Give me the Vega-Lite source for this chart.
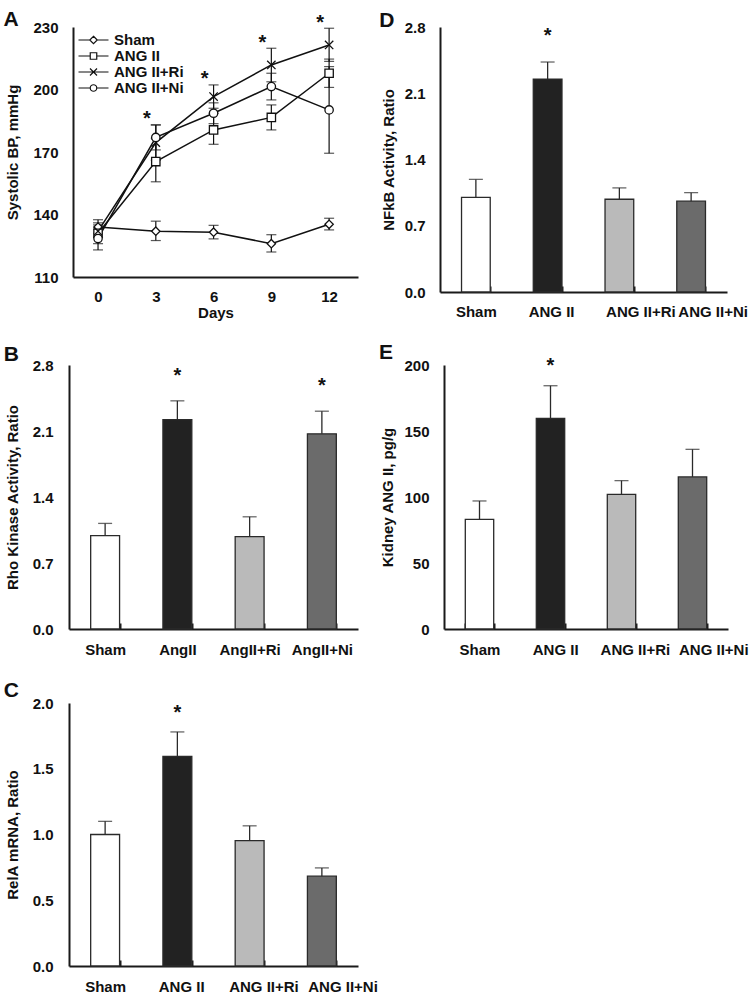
{
  "$schema": "https://vega.github.io/schema/vega-lite/v6.json",
  "background": "white",
  "padding": {"left": 3, "top": 8, "right": 0, "bottom": 0},
  "config": {
    "font": "Liberation Sans",
    "view": {"stroke": null},
    "title": {"anchor": "start", "fontSize": 21, "fontWeight": "bold", "color": "#111", "dx": -2},
    "axis": {
      "domainColor": "#1a1a1a", "domainWidth": 2, "grid": false, "ticks": false,
      "labelFontSize": 15, "labelFontWeight": "bold", "labelColor": "#111",
      "titleFontSize": 15, "titleFontWeight": "bold", "titleColor": "#111",
      "labelPadding": 16, "titlePadding": 11.5
    }
  },
  "datasets": {
    "bp": [
      {"day": 0, "group": "Sham", "mean": 134, "lo": 131, "hi": 137.5},
      {"day": 3, "group": "Sham", "mean": 132, "lo": 127.5, "hi": 136.8},
      {"day": 6, "group": "Sham", "mean": 131.5, "lo": 128.3, "hi": 134.8},
      {"day": 9, "group": "Sham", "mean": 126, "lo": 122, "hi": 130.3},
      {"day": 12, "group": "Sham", "mean": 135.3, "lo": 132.6, "hi": 138.2},
      {"day": 0, "group": "ANG II", "mean": 131, "lo": 126, "hi": 136},
      {"day": 3, "group": "ANG II", "mean": 165.4, "lo": 155.7, "hi": 176.6},
      {"day": 6, "group": "ANG II", "mean": 180.6, "lo": 173.7, "hi": 188.6},
      {"day": 9, "group": "ANG II", "mean": 186.6, "lo": 180.6, "hi": 192.6},
      {"day": 12, "group": "ANG II", "mean": 207.8, "lo": 201, "hi": 214.6},
      {"day": 0, "group": "ANG II+Ri", "mean": 132, "lo": 129, "hi": 135},
      {"day": 3, "group": "ANG II+Ri", "mean": 174.5, "lo": 166, "hi": 183},
      {"day": 6, "group": "ANG II+Ri", "mean": 196.6, "lo": 191, "hi": 202.2},
      {"day": 9, "group": "ANG II+Ri", "mean": 211.8, "lo": 203.7, "hi": 219.8},
      {"day": 12, "group": "ANG II+Ri", "mean": 221.4, "lo": 213.5, "hi": 229.4},
      {"day": 0, "group": "ANG II+Ni", "mean": 128.5, "lo": 123, "hi": 133},
      {"day": 3, "group": "ANG II+Ni", "mean": 177, "lo": 171, "hi": 183},
      {"day": 6, "group": "ANG II+Ni", "mean": 188.6, "lo": 183.6, "hi": 193.6},
      {"day": 9, "group": "ANG II+Ni", "mean": 201.4, "lo": 195, "hi": 207.8},
      {"day": 12, "group": "ANG II+Ni", "mean": 190.2, "lo": 169.4, "hi": 211}
    ],
    "nfkb": [
      {"group": "Sham", "value": 1.0, "hi": 1.19, "sig": false},
      {"group": "ANG II", "value": 2.25, "hi": 2.43, "sig": true},
      {"group": "ANG II+Ri", "value": 0.98, "hi": 1.10, "sig": false},
      {"group": "ANG II+Ni", "value": 0.96, "hi": 1.05, "sig": false}
    ],
    "rho": [
      {"group": "Sham", "value": 0.99, "hi": 1.12, "sig": false},
      {"group": "AngII", "value": 2.22, "hi": 2.42, "sig": true},
      {"group": "AngII+Ri", "value": 0.98, "hi": 1.19, "sig": false},
      {"group": "AngII+Ni", "value": 2.07, "hi": 2.31, "sig": true}
    ],
    "kidney": [
      {"group": "Sham", "value": 83, "hi": 97, "sig": false},
      {"group": "ANG II", "value": 159.6, "hi": 184.3, "sig": true},
      {"group": "ANG II+Ri", "value": 102, "hi": 112.4, "sig": false},
      {"group": "ANG II+Ni", "value": 115.2, "hi": 136.1, "sig": false}
    ],
    "rela": [
      {"group": "Sham", "value": 1.0, "hi": 1.10, "sig": false},
      {"group": "ANG II", "value": 1.594, "hi": 1.78, "sig": true},
      {"group": "ANG II+Ri", "value": 0.954, "hi": 1.066, "sig": false},
      {"group": "ANG II+Ni", "value": 0.683, "hi": 0.746, "sig": false}
    ]
  },
  "vconcat": [
    {
      "hconcat": [
        {
          "title": {"text": "A", "offset": -17},
          "width": 289, "height": 250,
          "data": {"name": "bp"},
          "encoding": {
            "x": {"field": "day", "type": "quantitative",
              "scale": {"domain": [-1.3, 13.5], "nice": false, "zero": false, "range": [4, 289]},
              "axis": {"title": "Days", "values": [0, 3, 6, 9, 12], "labelPadding": 12, "titlePadding": 1}}
          },
          "layer": [
            {"mark": {"type": "line", "color": "#111", "strokeWidth": 1.5},
             "encoding": {
               "y": {"field": "mean", "type": "quantitative", "scale": {"domain": [110, 230], "nice": false, "zero": false},
                 "axis": {"title": "Systolic BP, mmHg", "values": [110, 140, 170, 200, 230], "offset": -4, "labelPadding": 15, "titlePadding": 12.4}},
               "detail": {"field": "group"}}},
            {"mark": {"type": "rule", "color": "#111", "strokeWidth": 1.2},
             "encoding": {"y": {"field": "lo", "type": "quantitative", "scale": {"domain": [110, 230], "nice": false, "zero": false}}, "y2": {"field": "hi"}}},
            {"mark": {"type": "tick", "orient": "horizontal", "size": 10, "thickness": 1.2, "color": "#111"},
             "encoding": {"y": {"field": "lo", "type": "quantitative", "scale": {"domain": [110, 230], "nice": false, "zero": false}}}},
            {"mark": {"type": "tick", "orient": "horizontal", "size": 10, "thickness": 1.2, "color": "#111"},
             "encoding": {"y": {"field": "hi", "type": "quantitative", "scale": {"domain": [110, 230], "nice": false, "zero": false}}}},
            {"mark": {"type": "point", "filled": true, "fill": "white", "stroke": "#111", "strokeWidth": 1.3, "size": 70, "opacity": 1},
             "encoding": {
               "y": {"field": "mean", "type": "quantitative", "scale": {"domain": [110, 230], "nice": false, "zero": false}},
               "shape": {"field": "group", "type": "nominal",
                 "scale": {"domain": ["Sham", "ANG II", "ANG II+Ri", "ANG II+Ni"], "range": ["diamond", "square", "M-1,-1L1,1M-1,1L1,-1", "circle"]},
                 "legend": null}}},
            {"transform": [{"filter": "false"}],
             "mark": {"type": "point", "filled": false, "color": "#111", "strokeWidth": 1.2, "opacity": 1},
             "encoding": {
               "y": {"field": "mean", "type": "quantitative", "scale": {"domain": [110, 230], "nice": false, "zero": false}},
               "shape": {"field": "group", "type": "nominal",
                 "scale": {"domain": ["Sham", "ANG II", "ANG II+Ri", "ANG II+Ni"],
                   "range": [
                     "M-3,0L-0.75,0M0.75,0L3,0M0,-0.75L0.75,0L0,0.75L-0.75,0Z",
                     "M-3,0L-0.65,0M0.65,0L3,0M-0.65,-0.65L0.65,-0.65L0.65,0.65L-0.65,0.65Z",
                     "M-3,0L3,0M-0.7,-0.7L0.7,0.7M-0.7,0.7L0.7,-0.7",
                     "M-3,0L-0.65,0M0.65,0L3,0M0.65,0A0.65,0.65,0,1,1,-0.65,0A0.65,0.65,0,1,1,0.65,0Z"
                   ]},
                 "legend": {"title": null, "orient": "none", "legendX": 17, "legendY": 5.5, "padding": 0,
                   "symbolSize": 100, "symbolOpacity": 1, "symbolStrokeWidth": 1.2,
                   "labelFontSize": 15, "labelFontWeight": "bold", "labelColor": "#111", "labelOffset": 13, "rowPadding": -2.5, "symbolOffset": 0}}}},
            {"transform": [
               {"aggregate": [{"op": "max", "field": "hi", "as": "top"}], "groupby": ["day"]},
               {"filter": "datum.day > 0"}],
             "mark": {"type": "text", "text": "*", "fontSize": 20, "fontWeight": "bold", "color": "#111", "dx": -9, "dy": -5.5, "baseline": "middle"},
             "encoding": {"y": {"field": "top", "type": "quantitative", "scale": {"domain": [110, 230], "nice": false, "zero": false}}}}
          ],
          "resolve": {"scale": {"shape": "independent"}}
        },
        {
          "title": {"text": "D", "offset": -10.5},
          "width": 287, "height": 265,
          "data": {"name": "nfkb"},
          "encoding": {
            "x": {"field": "group", "type": "nominal", "sort": null,
              "scale": {"paddingInner": 0.6, "paddingOuter": 0.3},
              "axis": {"title": null, "labelAngle": 0, "labelPadding": 18, "ticks": true, "tickBand": "extent", "tickSize": -6, "tickWidth": 2, "tickColor": "#1a1a1a",
                "labelOffset": {"condition": [
                  {"test": "datum.value === 'ANG II'", "value": 3.5},
                  {"test": "datum.value === 'ANG II+Ri'", "value": 21},
                  {"test": "datum.value === 'ANG II+Ni'", "value": 21.5}], "value": 0}}}
          },
          "layer": [
            {"mark": {"type": "bar", "stroke": "#2a2a2a", "strokeWidth": 1.3},
             "encoding": {
               "y": {"field": "value", "type": "quantitative", "scale": {"domain": [0, 2.8], "nice": false},
                 "axis": {"title": "NFkB Activity, Ratio", "values": [0, 0.7, 1.4, 2.1, 2.8], "format": ".1f", "labelPadding": 15, "titlePadding": 8}},
               "color": {"field": "group", "type": "nominal", "legend": null,
                 "scale": {"domain": ["Sham", "ANG II", "ANG II+Ri", "ANG II+Ni", "AngII", "AngII+Ri", "AngII+Ni"], "range": ["#ffffff", "#222222", "#bababa", "#6b6b6b", "#222222", "#bababa", "#6b6b6b"]}}}},
            {"mark": {"type": "rule", "color": "#2a2a2a", "strokeWidth": 1.3},
             "encoding": {"y": {"field": "value", "type": "quantitative", "scale": {"domain": [0, 2.8], "nice": false}}, "y2": {"field": "hi"}}},
            {"mark": {"type": "tick", "orient": "horizontal", "size": 14, "thickness": 1.3, "color": "#2a2a2a"},
             "encoding": {"y": {"field": "hi", "type": "quantitative", "scale": {"domain": [0, 2.8], "nice": false}}}},
            {"transform": [{"filter": "datum.sig"}],
             "mark": {"type": "text", "text": "*", "fontSize": 20, "fontWeight": "bold", "color": "#111", "dy": -26, "baseline": "middle"},
             "encoding": {"y": {"field": "hi", "type": "quantitative", "scale": {"domain": [0, 2.8], "nice": false}}}}
          ]
        }
      ],
      "spacing": 21
    },
    {
      "hconcat": [
        {
          "title": {"text": "B", "offset": -7.2},
          "width": 289, "height": 264,
          "data": {"name": "rho"},
          "encoding": {
            "x": {"field": "group", "type": "nominal", "sort": null,
              "scale": {"paddingInner": 0.6, "paddingOuter": 0.3},
              "axis": {"title": null, "labelAngle": 0, "labelPadding": 19, "ticks": true, "tickBand": "extent", "tickSize": -6, "tickWidth": 2, "tickColor": "#1a1a1a"}}
          },
          "layer": [
            {"mark": {"type": "bar", "stroke": "#2a2a2a", "strokeWidth": 1.3},
             "encoding": {
               "y": {"field": "value", "type": "quantitative", "scale": {"domain": [0, 2.8], "nice": false},
                 "axis": {"title": "Rho Kinase Activity, Ratio", "values": [0, 0.7, 1.4, 2.1, 2.8], "format": ".1f"}},
               "color": {"field": "group", "type": "nominal", "legend": null,
                 "scale": {"domain": ["Sham", "ANG II", "ANG II+Ri", "ANG II+Ni", "AngII", "AngII+Ri", "AngII+Ni"], "range": ["#ffffff", "#222222", "#bababa", "#6b6b6b", "#222222", "#bababa", "#6b6b6b"]}}}},
            {"mark": {"type": "rule", "color": "#2a2a2a", "strokeWidth": 1.3},
             "encoding": {"y": {"field": "value", "type": "quantitative", "scale": {"domain": [0, 2.8], "nice": false}}, "y2": {"field": "hi"}}},
            {"mark": {"type": "tick", "orient": "horizontal", "size": 14, "thickness": 1.3, "color": "#2a2a2a"},
             "encoding": {"y": {"field": "hi", "type": "quantitative", "scale": {"domain": [0, 2.8], "nice": false}}}},
            {"transform": [{"filter": "datum.sig"}],
             "mark": {"type": "text", "text": "*", "fontSize": 20, "fontWeight": "bold", "color": "#111", "dy": -25, "baseline": "middle"},
             "encoding": {"y": {"field": "hi", "type": "quantitative", "scale": {"domain": [0, 2.8], "nice": false}}}}
          ]
        },
        {
          "title": {"text": "E", "offset": -7.2},
          "width": 284, "height": 264,
          "data": {"name": "kidney"},
          "encoding": {
            "x": {"field": "group", "type": "nominal", "sort": null,
              "scale": {"paddingInner": 0.6, "paddingOuter": 0.3},
              "axis": {"title": null, "labelAngle": 0, "labelPadding": 19, "ticks": true, "tickBand": "extent", "tickSize": -6, "tickWidth": 2, "tickColor": "#1a1a1a",
                "labelOffset": {"condition": [
                  {"test": "datum.value === 'ANG II'", "value": 4.7},
                  {"test": "datum.value === 'ANG II+Ri'", "value": 13.4},
                  {"test": "datum.value === 'ANG II+Ni'", "value": 20.8}], "value": 0}}}
          },
          "layer": [
            {"mark": {"type": "bar", "stroke": "#2a2a2a", "strokeWidth": 1.3},
             "encoding": {
               "y": {"field": "value", "type": "quantitative", "scale": {"domain": [0, 200], "nice": false},
                 "axis": {"title": "Kidney ANG II, pg/g", "values": [0, 50, 100, 150, 200], "labelPadding": 15, "titlePadding": 8}},
               "color": {"field": "group", "type": "nominal", "legend": null,
                 "scale": {"domain": ["Sham", "ANG II", "ANG II+Ri", "ANG II+Ni", "AngII", "AngII+Ri", "AngII+Ni"], "range": ["#ffffff", "#222222", "#bababa", "#6b6b6b", "#222222", "#bababa", "#6b6b6b"]}}}},
            {"mark": {"type": "rule", "color": "#2a2a2a", "strokeWidth": 1.3},
             "encoding": {"y": {"field": "value", "type": "quantitative", "scale": {"domain": [0, 200], "nice": false}}, "y2": {"field": "hi"}}},
            {"mark": {"type": "tick", "orient": "horizontal", "size": 14, "thickness": 1.3, "color": "#2a2a2a"},
             "encoding": {"y": {"field": "hi", "type": "quantitative", "scale": {"domain": [0, 200], "nice": false}}}},
            {"transform": [{"filter": "datum.sig"}],
             "mark": {"type": "text", "text": "*", "fontSize": 20, "fontWeight": "bold", "color": "#111", "dy": -19.5, "baseline": "middle"},
             "encoding": {"y": {"field": "hi", "type": "quantitative", "scale": {"domain": [0, 200], "nice": false}}}}
          ]
        }
      ],
      "spacing": 20
    },
    {
      "title": {"text": "C", "offset": -4.7},
      "width": 289, "height": 263,
      "data": {"name": "rela"},
      "encoding": {
        "x": {"field": "group", "type": "nominal", "sort": null,
          "scale": {"paddingInner": 0.6, "paddingOuter": 0.3},
          "axis": {"title": null, "labelAngle": 0, "labelPadding": 19, "ticks": true, "tickBand": "extent", "tickSize": -6, "tickWidth": 2, "tickColor": "#1a1a1a",
            "labelOffset": {"condition": [
              {"test": "datum.value === 'ANG II'", "value": 3.8},
              {"test": "datum.value === 'ANG II+Ri'", "value": 13.8},
              {"test": "datum.value === 'ANG II+Ni'", "value": 20.7}], "value": 0}}}
      },
      "layer": [
        {"mark": {"type": "bar", "stroke": "#2a2a2a", "strokeWidth": 1.3},
         "encoding": {
           "y": {"field": "value", "type": "quantitative", "scale": {"domain": [0, 2.0], "nice": false},
             "axis": {"title": "RelA mRNA, Ratio", "values": [0, 0.5, 1.0, 1.5, 2.0], "format": ".1f"}},
           "color": {"field": "group", "type": "nominal", "legend": null,
             "scale": {"domain": ["Sham", "ANG II", "ANG II+Ri", "ANG II+Ni", "AngII", "AngII+Ri", "AngII+Ni"], "range": ["#ffffff", "#222222", "#bababa", "#6b6b6b", "#222222", "#bababa", "#6b6b6b"]}}}},
        {"mark": {"type": "rule", "color": "#2a2a2a", "strokeWidth": 1.3},
         "encoding": {"y": {"field": "value", "type": "quantitative", "scale": {"domain": [0, 2.0], "nice": false}}, "y2": {"field": "hi"}}},
        {"mark": {"type": "tick", "orient": "horizontal", "size": 14, "thickness": 1.3, "color": "#2a2a2a"},
         "encoding": {"y": {"field": "hi", "type": "quantitative", "scale": {"domain": [0, 2.0], "nice": false}}}},
        {"transform": [{"filter": "datum.sig"}],
         "mark": {"type": "text", "text": "*", "fontSize": 20, "fontWeight": "bold", "color": "#111", "dy": -19, "baseline": "middle"},
         "encoding": {"y": {"field": "hi", "type": "quantitative", "scale": {"domain": [0, 2.0], "nice": false}}}}
      ]
    }
  ],
  "spacing": 22
}
